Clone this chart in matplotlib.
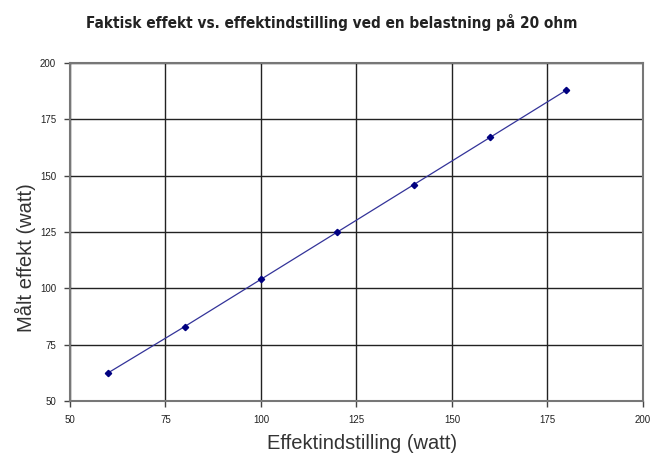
import matplotlib.pyplot as plt

# effektindstilling (watt) og målt effekt (watt)
setting = [60, 80, 100, 120, 140, 160, 180]
measured = [62.5, 83, 104, 125, 146, 167, 188]
ticks = [50, 75, 100, 125, 150, 175, 200]

fig = plt.figure(figsize=(6.54, 4.55), dpi=100)
ax = fig.add_axes([0.107, 0.1187, 0.876, 0.7428])

ax.plot(setting, measured, color='#333399', lw=0.9, marker='D', ms=3.2,
        mfc='#000080', mec='#000080', zorder=3)

ax.set_xlim(50, 200)
ax.set_ylim(50, 200)
ax.set_xticks(ticks)
ax.set_yticks(ticks)
ax.grid(True, color='#222222', lw=1.0)
for s in ax.spines.values():
    s.set_color('#777777')
    s.set_linewidth(1.5)
ax.tick_params(labelsize=7, length=4, width=1, color='#444444', pad=6,
               labelcolor='#222222', labelfontfamily='Liberation Sans')

ax.set_xlabel('Effektindstilling (watt)', fontsize=14.5, family='Liberation Sans',
              color='#333333', va='center')
ax.set_ylabel('Målt effekt (watt)', fontsize=14.5, family='Liberation Sans',
              color='#333333', va='center')
ax.xaxis.set_label_coords(0.51, -0.126)
ax.yaxis.set_label_coords(-0.0785, 0.423)

fig.suptitle('Faktisk effekt vs. effektindstilling ved en belastning på 20 ohm',
             x=0.508, y=0.95, va='center', fontsize=11, fontweight='bold',
             fontstretch='condensed', color='#222222',
             family=['Liberation Sans Narrow', 'DejaVu Sans Condensed', 'DejaVu Sans'])

fig.savefig('out.png', dpi=100)
